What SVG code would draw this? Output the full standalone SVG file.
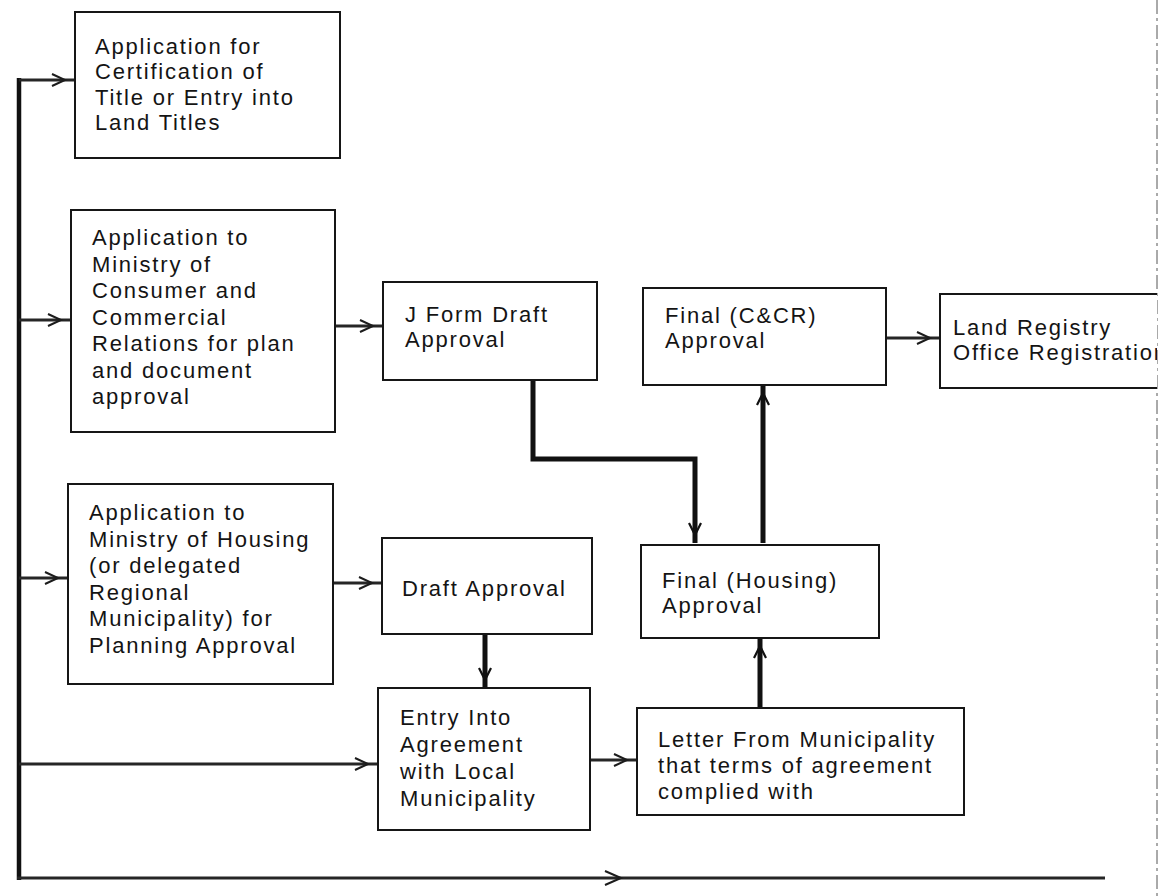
<svg xmlns="http://www.w3.org/2000/svg" width="1176" height="896" viewBox="0 0 1176 896">
<style>
.box{fill:#fff;stroke:#161616;stroke-width:2}
.t{font-family:"Liberation Sans",Arial,sans-serif;font-size:22px;letter-spacing:1.8px;fill:#141414}
.h{fill:none;stroke:#262626;stroke-width:3.2}
.v{fill:none;stroke:#111;stroke-width:5}
.trunk{fill:none;stroke:#111;stroke-width:4.5}
.chev{fill:none;stroke:#1c1c1c;stroke-width:2}
.edge{fill:none;stroke:#555;stroke-width:1;stroke-dasharray:14 4 3 4}
</style>
<defs>
<marker id="ah" markerUnits="userSpaceOnUse" markerWidth="30" markerHeight="14" refX="23" refY="6" orient="auto" overflow="visible">
<path d="M0,0 L13,6 L0,12" fill="none" stroke="#1c1c1c" stroke-width="2"/>
</marker>
<marker id="av" markerUnits="userSpaceOnUse" markerWidth="30" markerHeight="14" refX="20" refY="6" orient="auto" overflow="visible">
<path d="M0,0 L12,6 L0,12" fill="none" stroke="#111" stroke-width="2.2"/>
</marker>
<clipPath id="pg"><rect x="0" y="0" width="1157" height="896"/></clipPath>
</defs>
<rect width="1176" height="896" fill="#fff"/>
<line class="edge" x1="1157" y1="0" x2="1157" y2="896"/>

<g id="connectors">
<path class="trunk" d="M19,78 V880"/>
<path class="h" d="M17,878 H1105"/>
<path class="chev" d="M605,871 L621,878 L605,885"/>
<path class="h" marker-end="url(#ah)" d="M19,80 H75"/>
<path class="h" marker-end="url(#ah)" d="M19,320 H71"/>
<path class="h" marker-end="url(#ah)" d="M19,578 H68"/>
<path class="h" marker-end="url(#ah)" d="M19,764 H378"/>
<path class="h" marker-end="url(#ah)" d="M335,326 H383"/>
<path class="h" marker-end="url(#ah)" d="M333,583 H382"/>
<path class="h" marker-end="url(#ah)" d="M590,760 H637"/>
<path class="h" marker-end="url(#ah)" d="M886,338 H940"/>
<path class="v" marker-end="url(#av)" d="M485,635 V688"/>
<path class="v" marker-end="url(#av)" d="M533,380 V459 H695 V543"/>
<path class="v" marker-end="url(#av)" d="M760,707 V638"/>
<path class="v" marker-end="url(#av)" d="M763,543 V385"/>
</g>

<g id="n1">
<rect class="box" x="75" y="12" width="265" height="146"/>
<text class="t"><tspan x="95" y="54">Application for</tspan><tspan x="95" y="79">Certification of</tspan><tspan x="95" y="105">Title or Entry into</tspan><tspan x="95" y="130">Land Titles</tspan></text>
</g>
<g id="n2">
<rect class="box" x="71" y="210" width="264" height="222"/>
<text class="t"><tspan x="92" y="245">Application to</tspan><tspan x="92" y="271.5">Ministry of</tspan><tspan x="92" y="298">Consumer and</tspan><tspan x="92" y="324.5">Commercial</tspan><tspan x="92" y="351">Relations for plan</tspan><tspan x="92" y="377.5">and document</tspan><tspan x="92" y="404">approval</tspan></text>
</g>
<g id="n3">
<rect class="box" x="68" y="484" width="265" height="200"/>
<text class="t"><tspan x="89" y="520">Application to</tspan><tspan x="89" y="546.5">Ministry of Housing</tspan><tspan x="89" y="573">(or delegated</tspan><tspan x="89" y="599.5">Regional</tspan><tspan x="89" y="626">Municipality) for</tspan><tspan x="89" y="652.5">Planning Approval</tspan></text>
</g>
<g id="n4">
<rect class="box" x="383" y="282" width="214" height="98"/>
<text class="t"><tspan x="405" y="322">J Form Draft</tspan><tspan x="405" y="347">Approval</tspan></text>
</g>
<g id="n5">
<rect class="box" x="643" y="288" width="243" height="97"/>
<text class="t"><tspan x="665" y="323">Final (C&amp;CR)</tspan><tspan x="665" y="348">Approval</tspan></text>
</g>
<g id="n6" clip-path="url(#pg)">
<rect class="box" x="940" y="294" width="240" height="94"/>
<text class="t"><tspan x="953" y="335">Land Registry</tspan><tspan x="953" y="360">Office Registration</tspan></text>
</g>
<g id="n7">
<rect class="box" x="382" y="538" width="210" height="96"/>
<text class="t"><tspan x="402" y="596">Draft Approval</tspan></text>
</g>
<g id="n8">
<rect class="box" x="641" y="545" width="238" height="93"/>
<text class="t"><tspan x="662" y="588">Final (Housing)</tspan><tspan x="662" y="613">Approval</tspan></text>
</g>
<g id="n9">
<rect class="box" x="378" y="688" width="212" height="142"/>
<text class="t"><tspan x="400" y="725">Entry Into</tspan><tspan x="400" y="752">Agreement</tspan><tspan x="400" y="779">with Local</tspan><tspan x="400" y="806">Municipality</tspan></text>
</g>
<g id="n10">
<rect class="box" x="637" y="708" width="327" height="107"/>
<text class="t"><tspan x="658" y="747">Letter From Municipality</tspan><tspan x="658" y="773">that terms of agreement</tspan><tspan x="658" y="799">complied with</tspan></text>
</g>
</svg>
